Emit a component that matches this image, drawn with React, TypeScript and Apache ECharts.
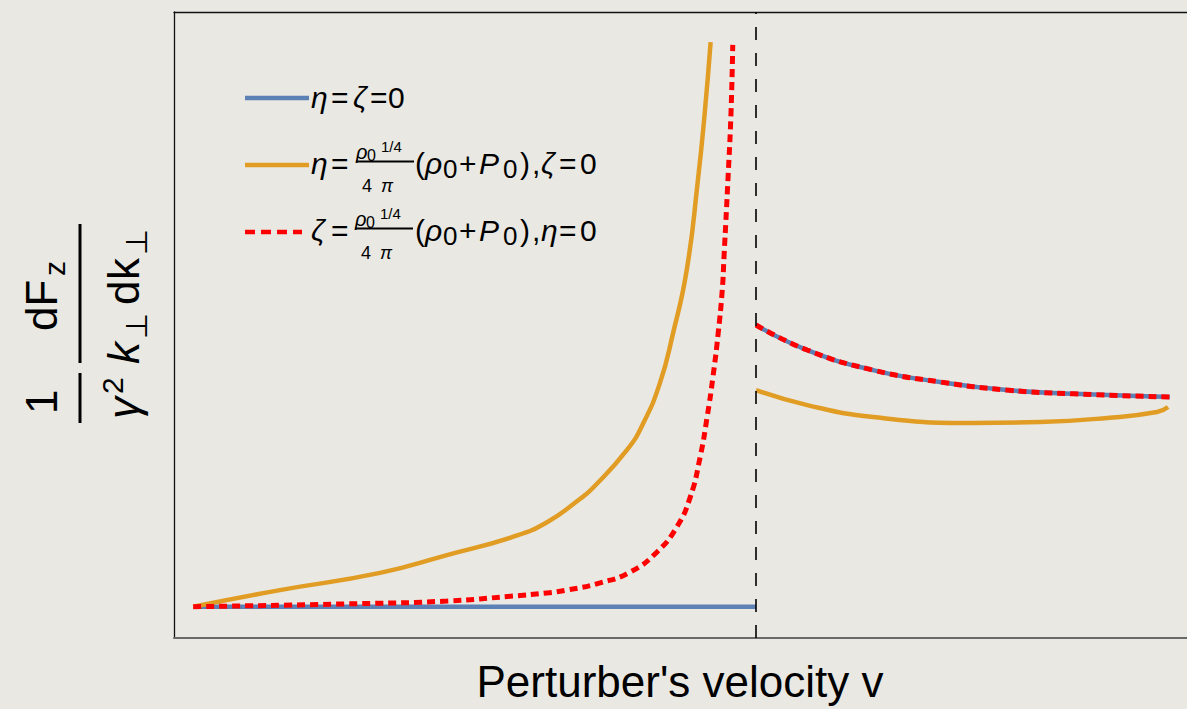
import React, { useEffect, useRef } from "react";
import * as echarts from "echarts";

const FONT = '"Liberation Sans", Arial, Helvetica, sans-serif';

// Axis extents: v in units of the sound speed, force in arbitrary units
const V_MIN = 0;
const V_MAX = 1.7405;
const F_MIN = 0;
const F_MAX = 20;
const V_SOUND = 1;

// Inviscid case (eta = zeta = 0)
const blueSubV = [0.033, 1.0];
const blueSubF = [1.0, 1.0];
const blueSupV = [1.0, 1.088, 1.201, 1.316, 1.431, 1.545, 1.711];
const blueSupF = [10.0, 9.2, 8.56, 8.18, 7.92, 7.8, 7.7];

// Shear viscosity only
const orangeSubV = [0.033, 0.182, 0.354, 0.469, 0.582, 0.641, 0.698, 0.72, 0.778, 0.806, 0.835, 0.857, 0.881, 0.9, 0.912, 0.922];
const orangeSubF = [1.0, 1.53, 2.08, 2.65, 3.23, 3.7, 4.45, 4.8, 6.0, 6.85, 8.15, 9.7, 11.76, 14.6, 16.8, 19.04];
const orangeSupV = [1.0, 1.088, 1.201, 1.373, 1.488, 1.603, 1.689, 1.708];
const orangeSupF = [7.92, 7.44, 7.06, 6.87, 6.9, 7.03, 7.22, 7.38];

// Bulk viscosity only
const redSubV = [0.033, 0.297, 0.469, 0.582, 0.641, 0.675, 0.732, 0.784, 0.83, 0.864, 0.887, 0.904, 0.916, 0.926, 0.935, 0.942, 0.945, 0.952, 0.957, 0.96];
const redSubF = [1.0, 1.09, 1.18, 1.34, 1.44, 1.53, 1.76, 2.11, 2.75, 3.55, 4.5, 5.78, 7.06, 8.34, 9.74, 11.12, 12.17, 14.73, 16.77, 18.95];
const redSupV = blueSupV;
const redSupF = blueSupF;

const BLUE = "#5e81b5";
const ORANGE = "#e19c24";
const RED = "#ff0000";

// Two branches joined by a gap at the sound speed
function branches(v1: number[], f1: number[], v2: number[], f2: number[]) {
  const a = v1.map((v, i) => [v, f1[i]]);
  const b = v2.map((v, i) => [v, f2[i]]);
  return [...a, [V_SOUND, null], ...b];
}

type Glyph = [string, number, number, number, boolean?, string?];

// Text pieces placed on a baseline (x = left edge, b = baseline)
function glyphs(list: Glyph[]) {
  return list.map(([t, x, b, s, it, align]) => ({
    type: "text",
    x,
    y: b - 0.35 * s,
    silent: true,
    style: {
      text: t,
      fontSize: s,
      fontFamily: FONT,
      fontStyle: it ? "italic" : "normal",
      fill: "#000",
      align: align || "left",
      verticalAlign: "middle",
    },
  }));
}

function bar(x1: number, y1: number, x2: number, y2: number, w: number) {
  return {
    type: "line",
    silent: true,
    shape: { x1, y1, x2, y2 },
    style: { stroke: "#000", lineWidth: w },
  };
}

function legendLine(y: number, x2: number, color: string, dash?: number[]) {
  return {
    type: "line",
    silent: true,
    shape: { x1: 245, y1: y, x2, y2: y },
    style: { stroke: color, lineWidth: 4.5, lineDash: dash || null, lineCap: "butt" },
  };
}

// rho0^(1/4)/(4 pi) (rho0 + P0), with the other coefficient set to zero
function viscRow(lead: string, tail: string, B: number, fx: number) {
  return [
    ...glyphs([
      [lead, 311, B, 30, true],
      ["=", 331, B, 30],
      ["\u03c1", fx, B - 15, 20, true],
      ["0", fx + 11, B - 13, 16],
      ["1/4", fx + 25, B - 22, 15],
      ["4", fx + 6, B + 18, 18],
      ["\u03c0", fx + 25, B + 18, 18, true],
      ["(", 415, B, 30],
      ["\u03c1", 425, B, 30, true],
      ["0", 443, B + 4, 26],
      ["+", 459, B, 30],
      ["P", 479, B, 30, true],
      ["0", 503, B + 4, 26],
      [")", 520, B, 30],
      [",", 532, B, 30],
      [tail, 541, B, 30, true],
      ["=", 559, B, 30],
      ["0", 580, B, 30],
    ]),
    bar(fx, B - 12.5, fx + 58, B - 12.5, 2),
  ];
}

const lineBase = {
  type: "line",
  showSymbol: false,
  symbol: "none",
  smooth: 0.5,
  connectNulls: false,
};

export default function App() {
  const ref = useRef<HTMLDivElement>(null);

  useEffect(() => {
    if (!ref.current) return;
    const chart = echarts.init(ref.current, null, { renderer: "svg" });

    const yLabel = {
      type: "group",
      x: 80,
      y: 423,
      rotation: Math.PI / 2,
      children: [
        bar(0, 0, 50, 0, 3),
        bar(60, 0, 199, 0, 3),
        ...glyphs([
          ["1", 9, -23, 44],
          ["\u03b3", 4, 59, 44, true],
          ["2", 29, 43, 30],
          ["dF", 92, -23, 44],
          ["z", 147, -15, 30],
          ["k", 59, 59, 44, true],
          ["\u22a5", 84, 67, 30],
          ["d", 118, 59, 44],
          ["k", 143, 59, 44],
          ["\u22a5", 168, 67, 30],
        ]),
      ],
    };

    const option: any = {
      animation: false,
      backgroundColor: "#e9e8e3",
      grid: { left: 174, right: 0, top: 12, bottom: 71 },
      xAxis: [
        {
          type: "value",
          min: V_MIN,
          max: V_MAX,
          position: "bottom",
          axisLine: { show: true, onZero: false, lineStyle: { color: "#6a6a6a", width: 2 } },
          axisTick: { show: false },
          axisLabel: { show: false },
          splitLine: { show: false },
        },
        {
          type: "value",
          min: V_MIN,
          max: V_MAX,
          position: "top",
          axisLine: { show: true, onZero: false, lineStyle: { color: "#111", width: 1.3 } },
          axisTick: { show: false },
          axisLabel: { show: false },
          splitLine: { show: false },
        },
      ],
      yAxis: {
        type: "value",
        min: F_MIN,
        max: F_MAX,
        axisLine: { show: true, onZero: false, lineStyle: { color: "#111", width: 1.3 } },
        axisTick: { show: false },
        axisLabel: { show: false },
        splitLine: { show: false },
      },
      series: [
        {
          ...lineBase,
          name: "\u03b7=\u03b6=0",
          data: branches(blueSubV, blueSubF, blueSupV, blueSupF),
          lineStyle: { color: BLUE, width: 4.5 },
          z: 2,
          markLine: {
            silent: true,
            symbol: ["none", "none"],
            label: { show: false },
            lineStyle: { color: "#000", width: 1.6, type: [13, 13] },
            data: [{ xAxis: V_SOUND }],
          },
        },
        {
          ...lineBase,
          name: "shear",
          data: branches(orangeSubV, orangeSubF, orangeSupV, orangeSupF),
          lineStyle: { color: ORANGE, width: 4.5 },
          z: 3,
        },
        {
          ...lineBase,
          name: "bulk",
          data: branches(redSubV, redSubF, redSupV, redSupF),
          lineStyle: { color: RED, width: 5, type: [8, 5], cap: "butt" },
          z: 4,
        },
      ],
      graphic: [
        legendLine(98, 309, BLUE),
        legendLine(165, 309, ORANGE),
        legendLine(232, 302, RED, [10, 6]),
        ...glyphs([
          ["\u03b7", 311, 108, 30, true],
          ["=", 331, 108, 30],
          ["\u03b6", 353, 108, 30, true],
          ["=", 370, 108, 30],
          ["0", 388, 108, 30],
        ]),
        ...viscRow("\u03b7", "\u03b6", 174, 356),
        ...viscRow("\u03b6", "\u03b7", 241, 355),
        yLabel,
        ...glyphs([["Perturber's velocity v", 680, 697, 44, false, "center"]]),
      ],
    };

    chart.setOption(option);
    return () => chart.dispose();
  }, []);

  return (
    <div
      ref={ref}
      style={{ position: "absolute", left: 0, top: 0, width: 1187, height: 709, background: "#e9e8e3" }}
    />
  );
}
